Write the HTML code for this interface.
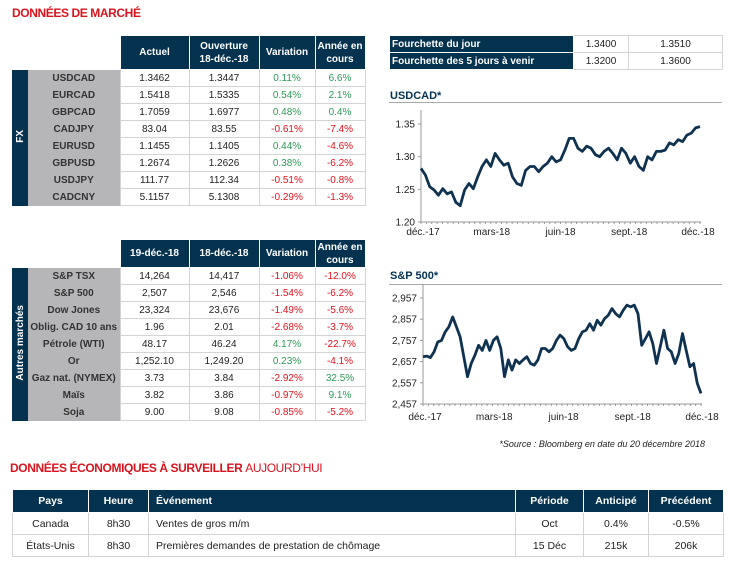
<!DOCTYPE html>
<html><head><meta charset="utf-8">
<style>
*{margin:0;padding:0;box-sizing:border-box}
body{width:735px;height:565px;background:#fff;position:relative;font-family:"Liberation Sans",sans-serif;color:#222;overflow:hidden}
.title{position:absolute;color:#d7141e;font-weight:bold;font-size:12px;letter-spacing:-0.4px}
table{position:absolute;border-collapse:collapse;table-layout:fixed;font-size:10px}
td,th{text-align:center;padding:0;white-space:nowrap;overflow:hidden}
th{background:#04324f;color:#fff;font-weight:bold;border:1px solid #fff;line-height:13px}
td{border:1px solid #d4d4d4}
td.lab{background:#b6b6b9;font-weight:bold;color:#333;border:none}
td.side{background:#04324f;color:#fff;font-weight:bold;border:none;overflow:visible}
td.side span{display:inline-block;writing-mode:vertical-rl;transform:rotate(180deg);white-space:nowrap;font-size:10px}
.g{color:#2f9a58}.r{color:#e3121c}
.blank{border:none;background:#fff}
.rng td{border:1px solid #d4d4d4}
.rng td.nl{background:#04324f;color:#fff;font-weight:bold;text-align:left;padding-left:2px;border:1px solid #fff}
.eco th{border:1px solid #fff}
.eco td{border:1px solid #d4d4d4}
</style></head><body>
<div class="title" style="left:12px;top:6px">DONNÉES DE MARCHÉ</div>

<table style="left:12px;top:35px;width:353px">
<colgroup><col style="width:16px"><col style="width:92px"><col style="width:69px"><col style="width:70px"><col style="width:56px"><col style="width:50px"></colgroup>
<tr style="height:34px"><td class="blank" colspan="2"></td><th>Actuel</th><th>Ouverture<br>18-déc.-18</th><th>Variation</th><th>Année en<br>cours</th></tr>
<tr style="height:17px"><td class="side" rowspan="8"><span>FX</span></td><td class="lab">USDCAD</td><td>1.3462</td><td>1.3447</td><td class="g">0.11%</td><td class="g">6.6%</td></tr>
<tr style="height:17px"><td class="lab">EURCAD</td><td>1.5418</td><td>1.5335</td><td class="g">0.54%</td><td class="g">2.1%</td></tr>
<tr style="height:17px"><td class="lab">GBPCAD</td><td>1.7059</td><td>1.6977</td><td class="g">0.48%</td><td class="g">0.4%</td></tr>
<tr style="height:17px"><td class="lab">CADJPY</td><td>83.04</td><td>83.55</td><td class="r">-0.61%</td><td class="r">-7.4%</td></tr>
<tr style="height:17px"><td class="lab">EURUSD</td><td>1.1455</td><td>1.1405</td><td class="g">0.44%</td><td class="r">-4.6%</td></tr>
<tr style="height:17px"><td class="lab">GBPUSD</td><td>1.2674</td><td>1.2626</td><td class="g">0.38%</td><td class="r">-6.2%</td></tr>
<tr style="height:17px"><td class="lab">USDJPY</td><td>111.77</td><td>112.34</td><td class="r">-0.51%</td><td class="r">-0.8%</td></tr>
<tr style="height:17px"><td class="lab">CADCNY</td><td>5.1157</td><td>5.1308</td><td class="r">-0.29%</td><td class="r">-1.3%</td></tr>
</table>

<table style="left:12px;top:239px;width:353px">
<colgroup><col style="width:16px"><col style="width:92px"><col style="width:69px"><col style="width:70px"><col style="width:56px"><col style="width:50px"></colgroup>
<tr style="height:28px"><td class="blank" colspan="2"></td><th>19-déc.-18</th><th>18-déc.-18</th><th>Variation</th><th>Année en<br>cours</th></tr>
<tr style="height:17px"><td class="side" rowspan="9"><span>Autres marchés</span></td><td class="lab">S&amp;P TSX</td><td>14,264</td><td>14,417</td><td class="r">-1.06%</td><td class="r">-12.0%</td></tr>
<tr style="height:17px"><td class="lab">S&amp;P 500</td><td>2,507</td><td>2,546</td><td class="r">-1.54%</td><td class="r">-6.2%</td></tr>
<tr style="height:17px"><td class="lab">Dow Jones</td><td>23,324</td><td>23,676</td><td class="r">-1.49%</td><td class="r">-5.6%</td></tr>
<tr style="height:17px"><td class="lab">Oblig. CAD 10 ans</td><td>1.96</td><td>2.01</td><td class="r">-2.68%</td><td class="r">-3.7%</td></tr>
<tr style="height:17px"><td class="lab">Pétrole (WTI)</td><td>48.17</td><td>46.24</td><td class="g">4.17%</td><td class="r">-22.7%</td></tr>
<tr style="height:17px"><td class="lab">Or</td><td>1,252.10</td><td>1,249.20</td><td class="g">0.23%</td><td class="r">-4.1%</td></tr>
<tr style="height:17px"><td class="lab">Gaz nat. (NYMEX)</td><td>3.73</td><td>3.84</td><td class="r">-2.92%</td><td class="g">32.5%</td></tr>
<tr style="height:17px"><td class="lab">Maïs</td><td>3.82</td><td>3.86</td><td class="r">-0.97%</td><td class="g">9.1%</td></tr>
<tr style="height:17px"><td class="lab">Soja</td><td>9.00</td><td>9.08</td><td class="r">-0.85%</td><td class="r">-5.2%</td></tr>
</table>

<table class="rng" style="left:389px;top:35px;width:333px">
<colgroup><col style="width:184px"><col style="width:55px"><col style="width:94px"></colgroup>
<tr style="height:17px"><td class="nl">Fourchette du jour</td><td>1.3400</td><td>1.3510</td></tr>
<tr style="height:17px"><td class="nl">Fourchette des 5 jours à venir</td><td>1.3200</td><td>1.3600</td></tr>
</table>

<svg id="charts" width="735" height="565" style="position:absolute;left:0;top:0" font-family="Liberation Sans, sans-serif">
<text x="390" y="99" font-size="11" font-weight="bold" fill="#04324f">USDCAD*</text>
<line x1="389" y1="102.5" x2="722" y2="102.5" stroke="#aaa"/>
<text x="390" y="279" font-size="11" font-weight="bold" fill="#04324f">S&amp;P 500*</text>
<line x1="389" y1="284.5" x2="722" y2="284.5" stroke="#aaa"/>
<text x="705" y="447" font-size="9" font-style="italic" text-anchor="end" fill="#222">*Source : Bloomberg en date du  20 décembre 2018</text>
</svg>

<div class="title" style="left:10px;top:461px">DONNÉES ÉCONOMIQUES À SURVEILLER <span style="font-weight:normal">AUJOURD’HUI</span></div>
<table class="eco" style="left:12px;top:489px;width:711px;font-size:10.5px">
<colgroup><col style="width:76px"><col style="width:60px"><col style="width:367px"><col style="width:68px"><col style="width:65px"><col style="width:75px"></colgroup>
<tr style="height:23px"><th>Pays</th><th>Heure</th><th style="text-align:left;padding-left:7px">Événement</th><th>Période</th><th>Anticipé</th><th>Précédent</th></tr>
<tr style="height:22px"><td>Canada</td><td>8h30</td><td style="text-align:left;padding-left:7px">Ventes de gros m/m</td><td>Oct</td><td>0.4%</td><td>-0.5%</td></tr>
<tr style="height:22px"><td>États-Unis</td><td>8h30</td><td style="text-align:left;padding-left:7px">Premières demandes de prestation de chômage</td><td>15 Déc</td><td>215k</td><td>206k</td></tr>
</table>

<script>
const xLabels = ["déc.-17","mars-18","juin-18","sept.-18","déc.-18"];
const usdTicks = [1.20,1.25,1.30,1.35];
const usdcad = [1.282,1.272,1.254,1.249,1.241,1.251,1.243,1.246,1.230,1.225,1.249,1.259,1.251,1.269,1.285,1.295,1.285,1.305,1.295,1.287,1.290,1.269,1.259,1.256,1.279,1.285,1.285,1.277,1.285,1.290,1.300,1.292,1.295,1.310,1.328,1.328,1.313,1.308,1.316,1.313,1.303,1.300,1.308,1.313,1.305,1.295,1.313,1.305,1.290,1.300,1.285,1.279,1.300,1.295,1.308,1.308,1.310,1.321,1.318,1.326,1.323,1.333,1.336,1.344,1.346];
const spTicks = [2457,2557,2657,2757,2857,2957];
const sp500 = [2680,2683,2676,2703,2750,2757,2797,2821,2868,2821,2774,2680,2586,2648,2687,2734,2710,2757,2710,2757,2774,2719,2586,2665,2617,2665,2648,2665,2680,2648,2640,2665,2719,2719,2703,2719,2757,2782,2765,2727,2710,2719,2765,2797,2805,2836,2805,2852,2829,2860,2876,2907,2883,2868,2899,2923,2915,2923,2883,2734,2765,2797,2742,2648,2727,2805,2719,2703,2648,2695,2789,2710,2633,2648,2554,2507];

const NS="http://www.w3.org/2000/svg";
const svg=document.getElementById('charts');
function mk(tag,attrs){const e=document.createElementNS(NS,tag);for(const k in attrs)e.setAttribute(k,attrs[k]);svg.appendChild(e);return e;}

function drawChart(cfg){
  const {x0,x1,yTop,yBot,vMin,vMax,ticks,data,fmt,labY,name,lblX0,lblX1}=cfg;
  const ys=v=>yBot-(v-vMin)/(vMax-vMin)*(yBot-yTop);
  const xs=i=>x0+i/(data.length-1)*(x1-x0);
  const ax=mk('path',{d:`M${x0} ${yTop-14}V${yBot}H${x1+1}`,stroke:'#999',fill:'none','stroke-width':1});
  
  
  for(let k=0;k<=52;k++){const tx=x0+k/52*(x1-x0);mk('line',{x1:tx,x2:tx,y1:yBot,y2:yBot+2,stroke:'#999'});}
  ticks.forEach(t=>{
    const y=ys(t);
    mk('line',{x1:x0-3,x2:x0,y1:y,y2:y,stroke:'#999'});
    const tl=mk('text',{x:x0-6,y:y+3.5,'font-size':10,'text-anchor':'end',fill:'#222'});
    tl.textContent=fmt(t);
    
    
  });
  xLabels.forEach((l,i)=>{
    const tx=lblX0+i/(xLabels.length-1)*(lblX1-lblX0);
    const t=mk('text',{x:tx,y:labY,'font-size':10,'text-anchor':'middle',fill:'#222'});
    t.textContent=l;
    
    
  });
  const d=data.map((v,i)=>(i?'L':'M')+xs(i).toFixed(1)+' '+ys(v).toFixed(1)).join('');
  const p=mk('path',{d:d,fill:'none',stroke:'#0f3250','stroke-width':2.8,'stroke-linejoin':'round'});
  
  
}
drawChart({x0:421,x1:700,yTop:124,yBot:222,vMin:1.20,vMax:1.35,ticks:usdTicks,data:usdcad,fmt:v=>v.toFixed(2),labY:235,name:'usdcad',lblX0:423,lblX1:698});
drawChart({x0:423,x1:701,yTop:298,yBot:404,vMin:2457,vMax:2957,ticks:spTicks,data:sp500,fmt:v=>v.toLocaleString('en-US'),labY:420,name:'sp500',lblX0:425,lblX1:702});
</script>
</body></html>
